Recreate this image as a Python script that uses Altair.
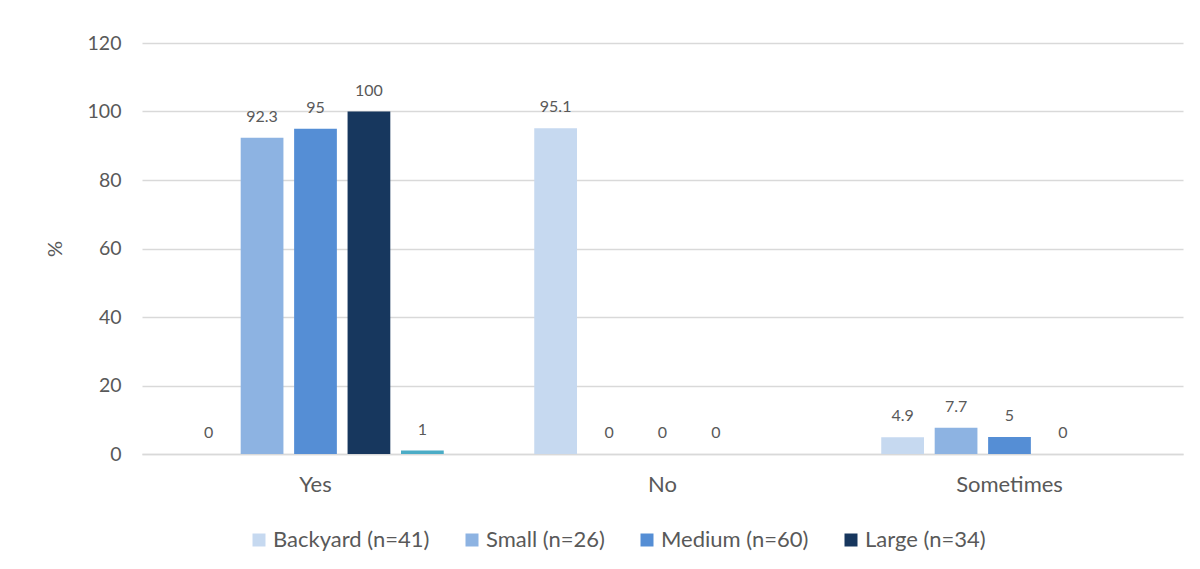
import altair as alt
import pandas as pd

categories = ["Yes", "No", "Sometimes"]
series = ["Backyard (n=41)", "Small (n=26)", "Medium (n=60)", "Large (n=34)", "Series 5"]
backyard = [0, 95.1, 4.9]
small = [92.3, 0, 7.7]
medium = [95, 0, 5]
large = [100, 0, 0]
series5 = [1, None, None]
colors = ["#c6d9f0", "#8db3e2", "#558ed5", "#17375e", "#4bacc6"]
y_ticks = [0, 20, 40, 60, 80, 100, 120]

rows = []
for s, vals in zip(series, [backyard, small, medium, large, series5]):
    for c, v in zip(categories, vals):
        if v is not None:
            rows.append({"category": c, "series": s, "value": v})
df = pd.DataFrame(rows)

FONT = "Lato"
GRAY = "#595959"

base = alt.Chart(df).encode(
    x=alt.X(
        "category:N",
        sort=categories,
        scale=alt.Scale(paddingInner=0.23, paddingOuter=0.115),
        axis=alt.Axis(
            title=None, labelAngle=0, ticks=False, domain=True,
            domainColor="#d9d9d9", domainWidth=1.5, labelPadding=20,
            labelFontSize=22, labelColor=GRAY, labelFont=FONT, grid=False,
        ),
    ),
    xOffset=alt.XOffset(
        "series:N", sort=series,
        scale=alt.Scale(domain=series, paddingInner=0.2, paddingOuter=0.1),
    ),
    y=alt.Y(
        "value:Q",
        scale=alt.Scale(domain=[0, 120]),
        axis=alt.Axis(
            values=y_ticks, title="%", domain=False, ticks=False,
            labelPadding=21, labelFontSize=19.5, labelColor=GRAY, labelFont=FONT,
            titleFontSize=20, titleFontWeight="normal", titleColor=GRAY,
            titleFont=FONT, titlePadding=22, grid=True, gridColor="#d9d9d9",
            gridWidth=1.5,
        ),
    ),
)

bars = base.mark_bar().encode(
    color=alt.Color(
        "series:N",
        scale=alt.Scale(domain=series, range=colors),
        legend=alt.Legend(
            values=series[:4], title=None, orient="none", direction="horizontal",
            legendX=106, legendY=486, symbolType="square", symbolSize=169,
            symbolStrokeWidth=0, labelFontSize=22, labelColor=GRAY,
            labelFont=FONT, columnPadding=31, labelOffset=3, padding=0,
        ),
    )
)

text = base.mark_text(
    baseline="bottom", dy=-13, fontSize=16, color=GRAY, font=FONT
).encode(text=alt.Text("value:Q", format=".1~f"))

chart = (
    alt.layer(bars, text)
    .properties(
        width=1041, height=411,
        padding={"left": 37, "top": 25, "right": 5, "bottom": 5},
        background="white",
    )
    .configure_view(stroke=None)
)

chart.save("out.html", embed_options={"renderer": "svg", "actions": False})
